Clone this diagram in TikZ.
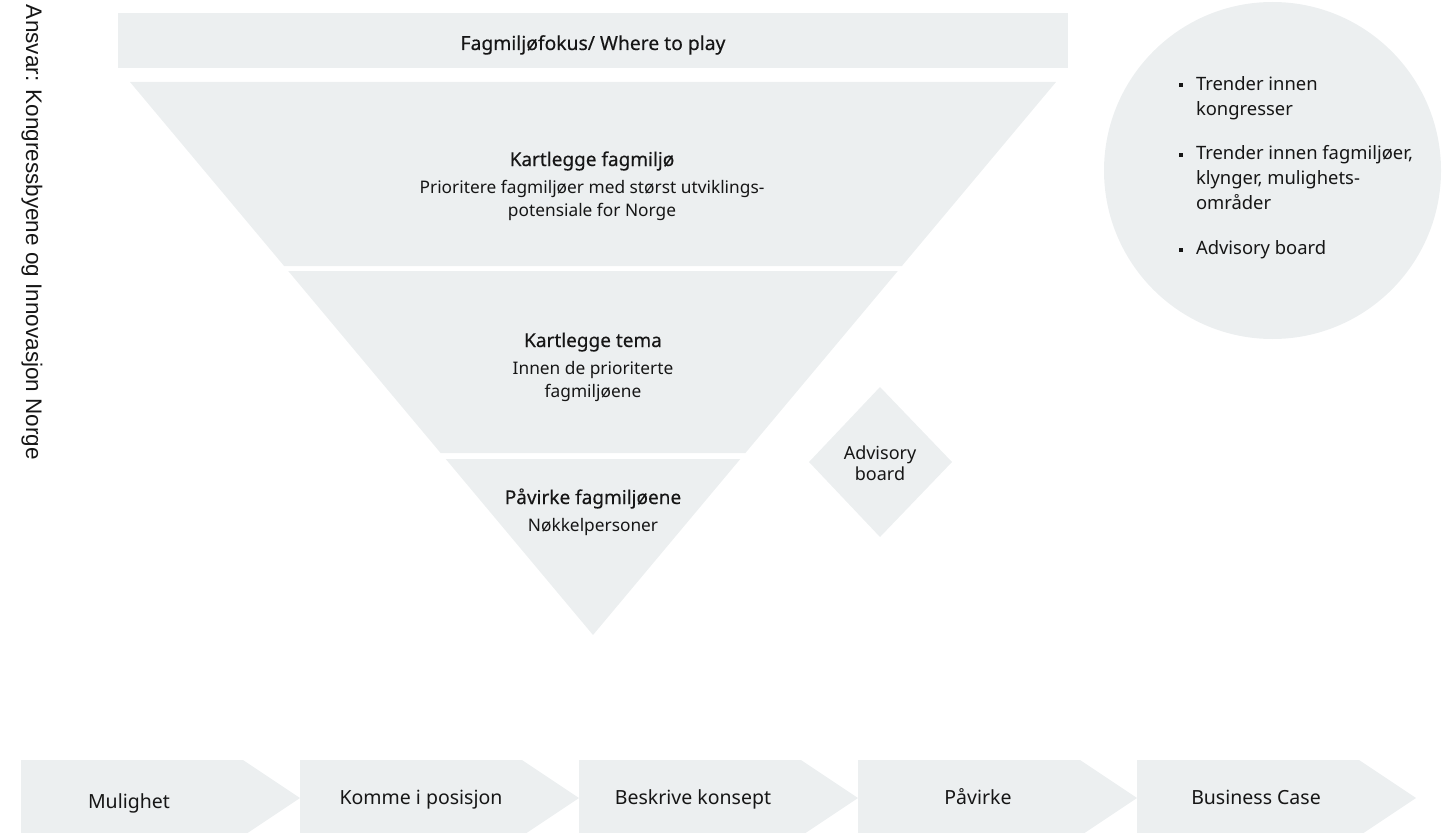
\documentclass[tikz,border=0pt]{standalone}
\usepackage{fontspec}
\setmainfont{Noto Sans}
\newfontfamily\arialfont{Liberation Sans}
\newfontfamily\medfont[FakeBold=0.35]{Noto Sans}
\definecolor{shade}{HTML}{ECEFF0}
\definecolor{ink}{HTML}{161616}
\begin{document}
\begin{tikzpicture}[x=1pt,y=-1pt,
  shapefill/.style={fill=shade,draw=none},
  lbl/.style={inner sep=0pt,outer sep=0pt,text=ink,anchor=base},
  titlefont/.style={font=\medfont\fontsize{19}{25}\selectfont},
  barfont/.style={font=\medfont\fontsize{19.3}{25}\selectfont},
  subfont/.style={font=\fontsize{17.3}{23.5}\selectfont},
  advfont/.style={font=\fontsize{18}{21}\selectfont},
  bulletfont/.style={font=\fontsize{18.4}{25}\selectfont},
  chevfont/.style={font=\fontsize{19.5}{22}\selectfont},
  bulletmark/.style={fill=ink,draw=none}]
\useasboundingbox (0,0) rectangle (1455,832);

% responsibility text
\node[lbl,rotate=-90,anchor=base west,font=\arialfont\fontsize{22.5}{27}\selectfont] (resp) at (26,5) {Ansvar: Kongressbyene og Innovasjon Norge};

% top bar
\node[shapefill,rectangle,minimum width=950pt,minimum height=55pt,inner sep=0pt] (bar) at (593,40.5) {};
\node[lbl,barfont] (bartext) at (593,50) {Fagmiljøfokus/ Where to play};

% funnel layers
\fill[shapefill] (130,82) -- (1056,82) -- (901.9,266) -- (284.1,266) -- cycle;
\fill[shapefill] (288.2,271) -- (897.8,271) -- (745.4,453) -- (440.6,453) -- cycle;
\fill[shapefill] (445.7,459) -- (740.3,459) -- (593,635) -- cycle;

\node[lbl,titlefont] (l1title) at (592,166) {Kartlegge fagmiljø};
\node[lbl,subfont,align=center] (l1sub) at (592,216.5) {Prioritere fagmiljøer med størst utviklings-\\potensiale for Norge};
\node[lbl,titlefont] (l2title) at (593,347) {Kartlegge tema};
\node[lbl,subfont,align=center] (l2sub) at (593,397.5) {Innen de prioriterte\\fagmiljøene};
\node[lbl,titlefont] (l3title) at (593,504) {Påvirke fagmiljøene};
\node[lbl,subfont] (l3sub) at (593,531) {Nøkkelpersoner};

% advisory diamond
\fill[shapefill] (880,387) -- (952,462) -- (880,537) -- (809,462) -- cycle;
\node[lbl,advfont,align=center] (adv) at (880,480) {Advisory\\board};

% trend circle
\node[shapefill,circle,minimum size=337pt,inner sep=0pt] (trends) at (1272.5,170.5) {};
\fill[bulletmark] (1179.3,83.3) rectangle (1182.7,86.7);
\fill[bulletmark] (1179.3,153.3) rectangle (1182.7,156.7);
\fill[bulletmark] (1179.3,248.3) rectangle (1182.7,251.7);
\node[lbl,bulletfont,anchor=base west,align=left] (t1) at (1196,115.5) {Trender innen\\kongresser};
\node[lbl,bulletfont,anchor=base west,align=left] (t2) at (1196,209) {Trender innen fagmiljøer,\\klynger, mulighets-\\områder};
\node[lbl,bulletfont,anchor=base west] (t3) at (1196,254) {Advisory board};

% process chevrons
\foreach \x in {21,300,579,858,1137}{
  \fill[shapefill] (\x,760) -- ({\x+222},760) -- ({\x+279},798) -- ({\x+222},836) -- (\x,836) -- cycle;
}
\node[lbl,chevfont] (c1) at (129,808) {Mulighet};
\node[lbl,chevfont] (c2) at (421,804) {Komme i posisjon};
\node[lbl,chevfont] (c3) at (693,804) {Beskrive konsept};
\node[lbl,chevfont] (c4) at (978,804) {Påvirke};
\node[lbl,chevfont] (c5) at (1256,804) {Business Case};
\end{tikzpicture}
\end{document}
